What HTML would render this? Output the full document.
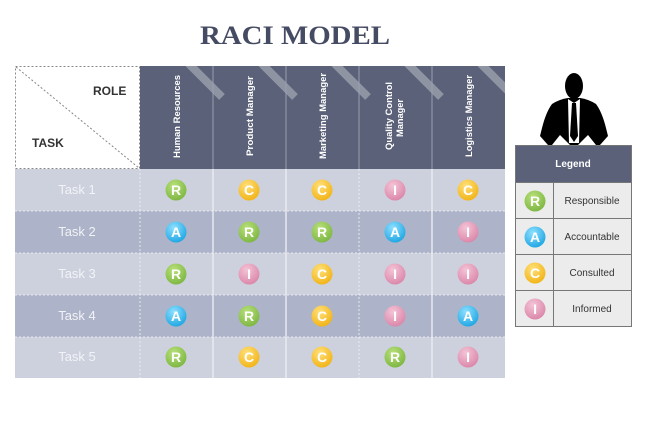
<!DOCTYPE html>
<html><head><meta charset="utf-8"><style>
html,body{margin:0;padding:0;background:#fff;}
svg{display:block;}
text{font-family:"Liberation Sans",Arial,sans-serif;}
</style></head><body>
<svg width="650" height="425" viewBox="0 0 650 425" xmlns="http://www.w3.org/2000/svg">
<defs>
<radialGradient id="gR" cx="0.4" cy="0.3" r="0.7"><stop offset="0" stop-color="#b8e07a"/><stop offset="1" stop-color="#7fb844"/></radialGradient>
<radialGradient id="gA" cx="0.4" cy="0.3" r="0.7"><stop offset="0" stop-color="#8fe0ff"/><stop offset="1" stop-color="#22a8e4"/></radialGradient>
<radialGradient id="gC" cx="0.4" cy="0.3" r="0.7"><stop offset="0" stop-color="#ffe07a"/><stop offset="1" stop-color="#f2b51a"/></radialGradient>
<radialGradient id="gI" cx="0.4" cy="0.3" r="0.7"><stop offset="0" stop-color="#f4c4d6"/><stop offset="1" stop-color="#db88aa"/></radialGradient>
<clipPath id="hc"><rect x="140" y="66" width="365" height="103"/></clipPath>
<g id="R"><circle r="10.5" fill="url(#gR)"/><text y="5" text-anchor="middle" font-size="14" font-weight="bold" fill="#fff">R</text></g>
<g id="A"><circle r="10.5" fill="url(#gA)"/><text y="5" text-anchor="middle" font-size="14" font-weight="bold" fill="#fff">A</text></g>
<g id="C"><circle r="10.5" fill="url(#gC)"/><text y="5" text-anchor="middle" font-size="14" font-weight="bold" fill="#fff">C</text></g>
<g id="I"><circle r="10.5" fill="url(#gI)"/><text y="5" text-anchor="middle" font-size="14" font-weight="bold" fill="#fff">I</text></g>
</defs>
<text x="295" y="44" text-anchor="middle" font-size="26" font-weight="bold" fill="#454b63" style="font-family:'Liberation Serif',serif" textLength="190" lengthAdjust="spacingAndGlyphs">RACI MODEL</text>

<!-- corner -->
<rect x="15.5" y="66.5" width="124" height="102" fill="#fff" stroke="#888" stroke-dasharray="2,2"/>
<line x1="16" y1="67" x2="139" y2="168" stroke="#888" stroke-dasharray="2,2"/>
<text x="93" y="95" font-size="12" font-weight="bold" fill="#333">ROLE</text>
<text x="32" y="147" font-size="12" font-weight="bold" fill="#333">TASK</text>

<!-- header -->
<rect x="140" y="66" width="365" height="103" fill="#5a6178"/>
<g clip-path="url(#hc)" stroke="#8f94a3" stroke-width="8">
<line x1="185" y1="60" x2="222" y2="97"/><line x1="258" y1="60" x2="295" y2="97"/><line x1="331" y1="60" x2="368" y2="97"/><line x1="404" y1="60" x2="441" y2="97"/><line x1="477" y1="60" x2="514" y2="97"/>
</g>
<g stroke="#9aa0b0" stroke-width="1"><line x1="213" y1="66" x2="213" y2="169"/><line x1="286" y1="66" x2="286" y2="169"/><line x1="359" y1="66" x2="359" y2="169"/><line x1="432" y1="66" x2="432" y2="169"/></g>
<g fill="#fff" font-size="9.5" font-weight="bold">
<text transform="translate(180,158) rotate(-90)" textLength="83" lengthAdjust="spacingAndGlyphs">Human Resources</text>
<text transform="translate(253,156) rotate(-90)" textLength="80" lengthAdjust="spacingAndGlyphs">Product Manager</text>
<text transform="translate(326,159) rotate(-90)" textLength="86" lengthAdjust="spacingAndGlyphs">Marketing Manager</text>
<text transform="translate(392,150) rotate(-90)" textLength="68" lengthAdjust="spacingAndGlyphs">Quality Control</text>
<text transform="translate(403,137) rotate(-90)" textLength="38" lengthAdjust="spacingAndGlyphs">Manager</text>
<text transform="translate(472,157) rotate(-90)" textLength="82" lengthAdjust="spacingAndGlyphs">Logistics Manager</text>
</g>

<!-- rows -->
<rect x="15" y="169" width="490" height="42" fill="#cdd1dd"/>
<rect x="15" y="211" width="490" height="42" fill="#adb3c8"/>
<rect x="15" y="253" width="490" height="42" fill="#cdd1dd"/>
<rect x="15" y="295" width="490" height="42" fill="#adb3c8"/>
<rect x="15" y="337" width="490" height="41" fill="#cdd1dd"/>
<g stroke="#e8eaf0" stroke-width="1" stroke-dasharray="2,2">
<line x1="15" y1="211" x2="505" y2="211"/><line x1="15" y1="253" x2="505" y2="253"/><line x1="15" y1="295" x2="505" y2="295"/><line x1="15" y1="337" x2="505" y2="337"/>
<line x1="140" y1="169" x2="140" y2="378"/><line x1="359" y1="169" x2="359" y2="378"/>
</g>
<g stroke="#e8eaf0" stroke-width="1.5"><line x1="213" y1="169" x2="213" y2="378"/><line x1="286" y1="169" x2="286" y2="378"/><line x1="432" y1="169" x2="432" y2="378"/></g>
<g fill="#f2f3f7" font-size="13" text-anchor="middle">
<text x="77" y="194">Task 1</text><text x="77" y="236">Task 2</text><text x="77" y="278">Task 3</text><text x="77" y="320">Task 4</text><text x="77" y="361">Task 5</text>
</g>
<use href="#R" x="176" y="190"/><use href="#C" x="249" y="190"/><use href="#C" x="322" y="190"/><use href="#I" x="395" y="190"/><use href="#C" x="468" y="190"/>
<use href="#A" x="176" y="232"/><use href="#R" x="249" y="232"/><use href="#R" x="322" y="232"/><use href="#A" x="395" y="232"/><use href="#I" x="468" y="232"/>
<use href="#R" x="176" y="274"/><use href="#I" x="249" y="274"/><use href="#C" x="322" y="274"/><use href="#I" x="395" y="274"/><use href="#I" x="468" y="274"/>
<use href="#A" x="176" y="316"/><use href="#R" x="249" y="316"/><use href="#C" x="322" y="316"/><use href="#I" x="395" y="316"/><use href="#A" x="468" y="316"/>
<use href="#R" x="176" y="357"/><use href="#C" x="249" y="357"/><use href="#C" x="322" y="357"/><use href="#R" x="395" y="357"/><use href="#I" x="468" y="357"/>

<!-- person -->
<g fill="#000">
<ellipse cx="574" cy="86" rx="9" ry="13"/>
<path d="M552 104 Q560 99 568 98 L580 98 Q588 99 596 104 Q602 112 606 128 L608 136 L600 145 L548 145 L540 136 L542 128 Q546 112 552 104 Z"/>
</g>
<path d="M568 99 L574 103 L580 99 L579 143 L569 143 Z" fill="#fff"/>
<path d="M572 103 L576 103 L578 136 L574 142 L570 136 Z" fill="#000"/>
<path d="M552 145 L560 135 L570 145 Z M578 145 L588 135 L596 145 Z" fill="#fff"/>

<!-- legend -->
<rect x="515.5" y="145.5" width="116" height="37" fill="#5a6178" stroke="#777"/>
<text x="573" y="167" text-anchor="middle" font-size="10" font-weight="bold" fill="#fff">Legend</text>
<rect x="515.5" y="182.5" width="116" height="144" fill="#ececec" stroke="#777"/>
<g stroke="#777"><line x1="515" y1="218.5" x2="632" y2="218.5"/><line x1="515" y1="254.5" x2="632" y2="254.5"/><line x1="515" y1="290.5" x2="632" y2="290.5"/><line x1="553.5" y1="182" x2="553.5" y2="327"/></g>
<use href="#R" x="535" y="201"/><use href="#A" x="535" y="237"/><use href="#C" x="535" y="273"/><use href="#I" x="535" y="309"/>
<g font-size="10" fill="#333" text-anchor="middle">
<text x="592" y="204">Responsible</text><text x="592" y="240">Accountable</text><text x="592" y="276">Consulted</text><text x="592" y="312">Informed</text>
</g>
</svg>
</body></html>
